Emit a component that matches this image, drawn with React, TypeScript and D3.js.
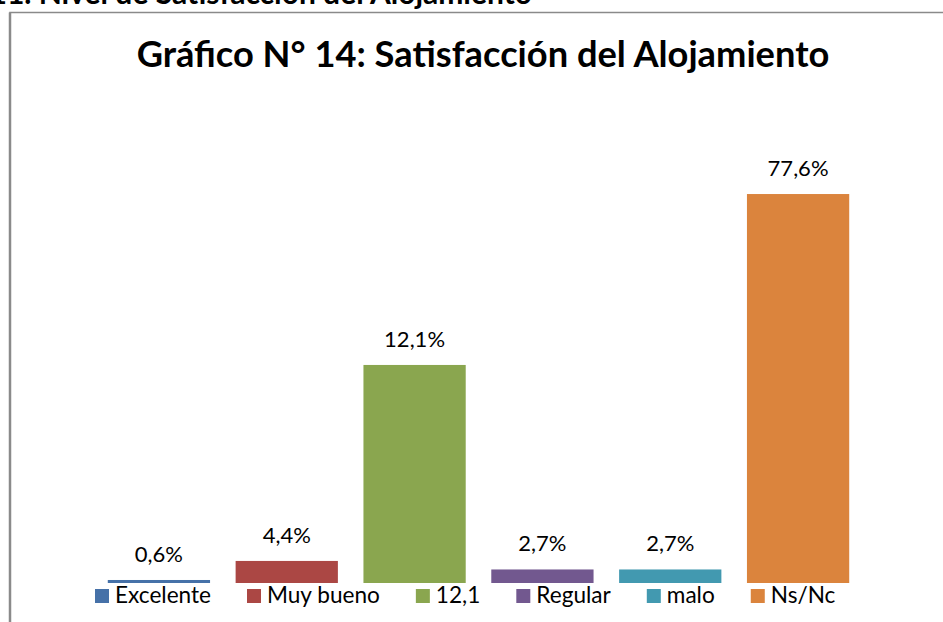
import React, { useEffect, useRef } from "react";
import * as d3 from "d3";

const categories = ["Excelente", "Muy bueno", "12,1", "Regular", "malo", "Ns/Nc"];
const values = [0.6, 4.4, 43.5, 2.7, 2.7, 77.6];
const valueLabels = ["0,6%", "4,4%", "12,1%", "2,7%", "2,7%", "77,6%"];
const colors = ["#4671a8", "#ab4744", "#8aa64f", "#72588f", "#4299b0", "#db843d"];
const titleText = "Gráfico N° 14: Satisfacción del Alojamiento";
const headingText = "4.11. Nivel de Satisfacción del Alojamiento";

const W = 943;
const H = 622;
const FONT = "Lato, 'Open Sans', sans-serif";

export default function App() {
  const ref = useRef<SVGSVGElement | null>(null);

  useEffect(() => {
    const svg = d3.select(ref.current);
    svg.selectAll("*").remove();

    svg.append("rect").attr("width", W).attr("height", H).attr("fill", "#ffffff");

    // heading above the chart (cut off by the top edge, as in the source)
    svg
      .append("text")
      .attr("x", 532)
      .attr("y", 4)
      .attr("text-anchor", "end")
      .attr("font-family", FONT)
      .attr("font-weight", 700)
      .attr("font-size", 30)
      .attr("fill", "#000")
      .text(headingText);

    // chart frame
    svg
      .append("rect")
      .attr("x", 10)
      .attr("y", 12.5)
      .attr("width", W + 20)
      .attr("height", H + 20)
      .attr("fill", "#ffffff")
      .attr("stroke", "#8a8a8a")
      .attr("stroke-width", 1.5);
    svg
      .append("line")
      .attr("x1", 10)
      .attr("x2", 10)
      .attr("y1", 12.5)
      .attr("y2", H)
      .attr("stroke", "#8a8a8a")
      .attr("stroke-width", 2.5);

    // title
    const title = svg
      .append("text")
      .attr("x", 483)
      .attr("y", 67)
      .attr("text-anchor", "middle")
      .attr("font-family", FONT)
      .attr("font-weight", 700)
      .attr("font-size", 32)
      .attr("fill", "#000")
      .text(titleText);
    const tw = (title.node() as SVGTextElement).getComputedTextLength();
    if (tw > 0) title.attr("font-size", (32 * 693) / tw);

    const x = d3.scaleBand<string>().domain(categories).range([95, 862]).paddingInner(0.2).paddingOuter(0.1);
    const y = d3.scaleLinear().domain([0, 80]).range([583, 182]);

    const g = svg.append("g");
    g.selectAll("rect.bar")
      .data(categories)
      .join("rect")
      .attr("class", "bar")
      .attr("x", (d) => x(d)!)
      .attr("width", x.bandwidth())
      .attr("y", (d, i) => y(values[i]))
      .attr("height", (d, i) => y(0) - y(values[i]))
      .attr("fill", (d, i) => colors[i]);

    g.selectAll("text.lbl")
      .data(categories)
      .join("text")
      .attr("class", "lbl")
      .attr("x", (d) => x(d)! + x.bandwidth() / 2)
      .attr("y", (d, i) => y(values[i]) - 18)
      .attr("text-anchor", "middle")
      .attr("font-family", FONT)
      .attr("font-size", 22)
      .attr("fill", "#000")
      .text((d, i) => valueLabels[i]);

    // legend
    const leg = svg.append("g");
    let cx = 95;
    const sq = 14;
    categories.forEach((c, i) => {
      leg
        .append("rect")
        .attr("x", cx)
        .attr("y", 589)
        .attr("width", sq)
        .attr("height", sq)
        .attr("fill", colors[i]);
      const t = leg
        .append("text")
        .attr("x", cx + sq + 6)
        .attr("y", 603)
        .attr("font-family", FONT)
        .attr("font-size", 22.6)
        .attr("fill", "#000")
        .text(c);
      const w = (t.node() as SVGTextElement).getComputedTextLength();
      cx += sq + 6 + w + 36;
    });
  }, []);

  return (
    <svg
      ref={ref}
      width={W}
      height={H}
      style={{ position: "absolute", left: 0, top: 0, display: "block" }}
    />
  );
}
